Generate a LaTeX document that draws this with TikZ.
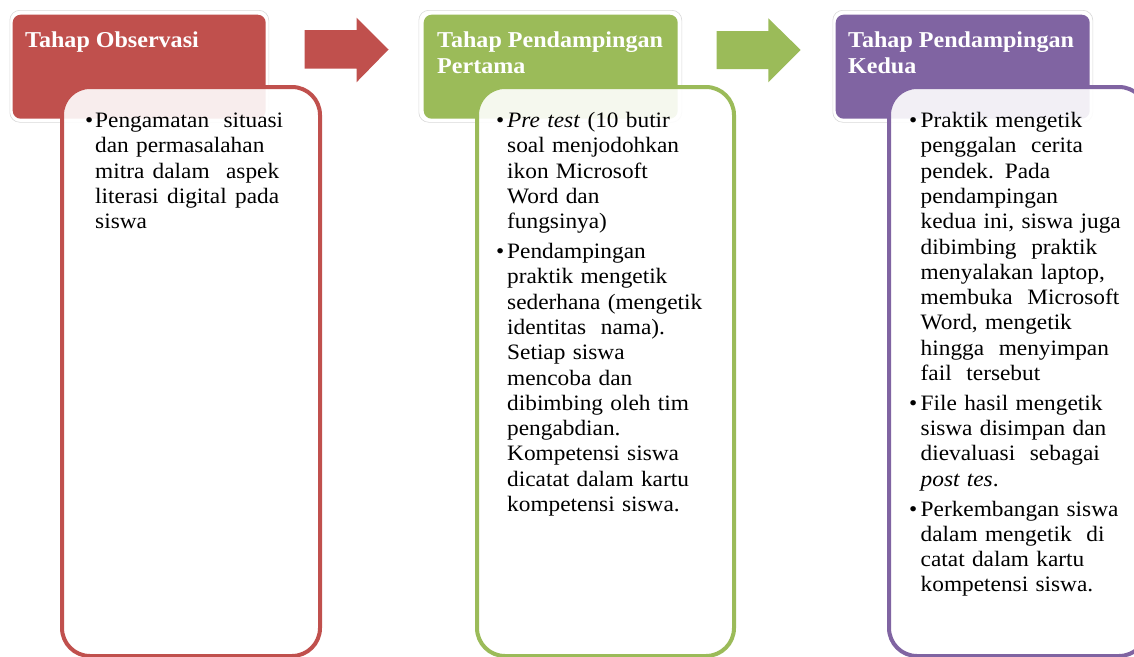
\documentclass[tikz,border=0pt]{standalone}
\usepackage{fontspec}
\setmainfont{Liberation Serif}[FakeStretch=1.06]
\definecolor{cred}{HTML}{C0504D}
\definecolor{cgreen}{HTML}{9BBB59}
\definecolor{cpurple}{HTML}{8064A2}
\newlength{\bhang}
\newcommand{\bitem}{\par\hangindent=\bhang\hangafter=1\noindent\hbox to \bhang{\textbullet\hfil}\strut}
\begin{document}
\begin{tikzpicture}[x=1pt,y=-1pt,
  hdrouter/.style={draw=black!15, fill=white, line width=0.6pt, rounded corners=10pt, inner sep=0pt, anchor=north west},
  hdr/.style={fill=#1, rounded corners=8pt, inner sep=0pt, anchor=north west},
  body/.style={draw=#1, line width=4pt, fill=white, fill opacity=0.9, rounded corners=28pt, inner sep=0pt, anchor=north west},
  bodytext/.style={anchor=north west, inner sep=0pt, text width=#1, align=left, font=\fontsize{22}{25.3}\selectfont},
  hdrtext/.style={anchor=north west, inner sep=0pt, text=white, align=left, font=\fontsize{22.7}{25.8}\selectfont\bfseries},
  blockarrow/.style={fill=#1}
]
\useasboundingbox (0,0) rectangle (1134,656);
\clip (0,0) rectangle (1134,656);

% header backgrounds
\node[hdrouter, minimum width=259pt, minimum height=112pt] (o1) at (9.5,10) {};
\node[hdr=cred, minimum width=253pt, minimum height=104pt] (h1) at (12.5,14.5) {};
\node[hdrouter, minimum width=263pt, minimum height=112pt] (o2) at (418.5,10) {};
\node[hdr=cgreen, minimum width=254pt, minimum height=104pt] (h2) at (423.5,14.5) {};
\node[hdrouter, minimum width=260pt, minimum height=112pt] (o3) at (832.5,10) {};
\node[hdr=cpurple, minimum width=254pt, minimum height=104pt] (h3) at (835.5,14.5) {};

% header texts
\node[hdrtext] (t1) at (25,29) {\strut Tahap Observasi};
\node[hdrtext] (t2) at (437,29) {\strut Tahap Pendampingan\\Pertama};
\node[hdrtext] (t3) at (848,29) {\strut Tahap Pendampingan\\Kedua};

% block arrows
\fill[blockarrow=cred] (304.5,30) -- (356.5,30) -- (356.5,17.7) -- (388.5,49.5) -- (356.5,82.3) -- (356.5,68.5) -- (304.5,68.5) -- cycle;
\fill[blockarrow=cgreen] (716.7,31) -- (768.3,31) -- (768.3,18.3) -- (800.7,50) -- (768.3,82.3) -- (768.3,69) -- (716.7,69) -- cycle;

% bodies
\node[body=cred, minimum width=258pt, minimum height=569pt] (b1) at (60,85) {};
\node[body=cgreen, minimum width=257pt, minimum height=569pt] (b2) at (475,85) {};
\node[body=cpurple, minimum width=258pt, minimum height=569pt] (b3) at (887,85) {};

% body texts
\node[bodytext=210pt] (x1) at (85,97.5) {\setlength{\bhang}{10pt}\setlength{\parskip}{4.5pt}%
\bitem \hbox to 188pt{Pengamatan\hfill situasi}\newline dan permasalahan\newline \hbox to 184pt{mitra\hfill dalam\hfill\hfill aspek}\newline \hbox to 184pt{literasi\hfill digital\hfill pada}\newline siswa\par};

\node[bodytext=230pt] (x2) at (496,97.5) {\setlength{\bhang}{11pt}\setlength{\parskip}{4.5pt}%
\bitem \textit{Pre test} (10 butir\newline soal menjodohkan\newline ikon Microsoft\newline Word dan\newline fungsinya)
\bitem Pendampingan\newline praktik mengetik\newline sederhana (mengetik\newline identitas\ \ nama).\newline Setiap siswa\newline mencoba dan\newline dibimbing oleh tim\newline pengabdian.\newline Kompetensi siswa\newline dicatat dalam kartu\newline kompetensi siswa.\par};

\node[bodytext=225pt] (x3) at (909,97.5) {\setlength{\bhang}{11.5pt}\setlength{\parskip}{4.5pt}%
\bitem Praktik mengetik\newline penggalan\ \ cerita\newline pendek. Pada\newline pendampingan\newline kedua ini, siswa juga\newline dibimbing\ \ praktik\newline menyalakan laptop,\newline membuka\ \ Microsoft\newline Word, mengetik\newline hingga\ \ menyimpan\newline fail\ \ tersebut
\bitem File hasil mengetik\newline siswa disimpan dan\newline dievaluasi\ \ sebagai\newline \textit{post tes}.
\bitem Perkembangan siswa\newline dalam mengetik\ \ di\newline catat dalam kartu\newline kompetensi siswa.\par};
\end{tikzpicture}
\end{document}
